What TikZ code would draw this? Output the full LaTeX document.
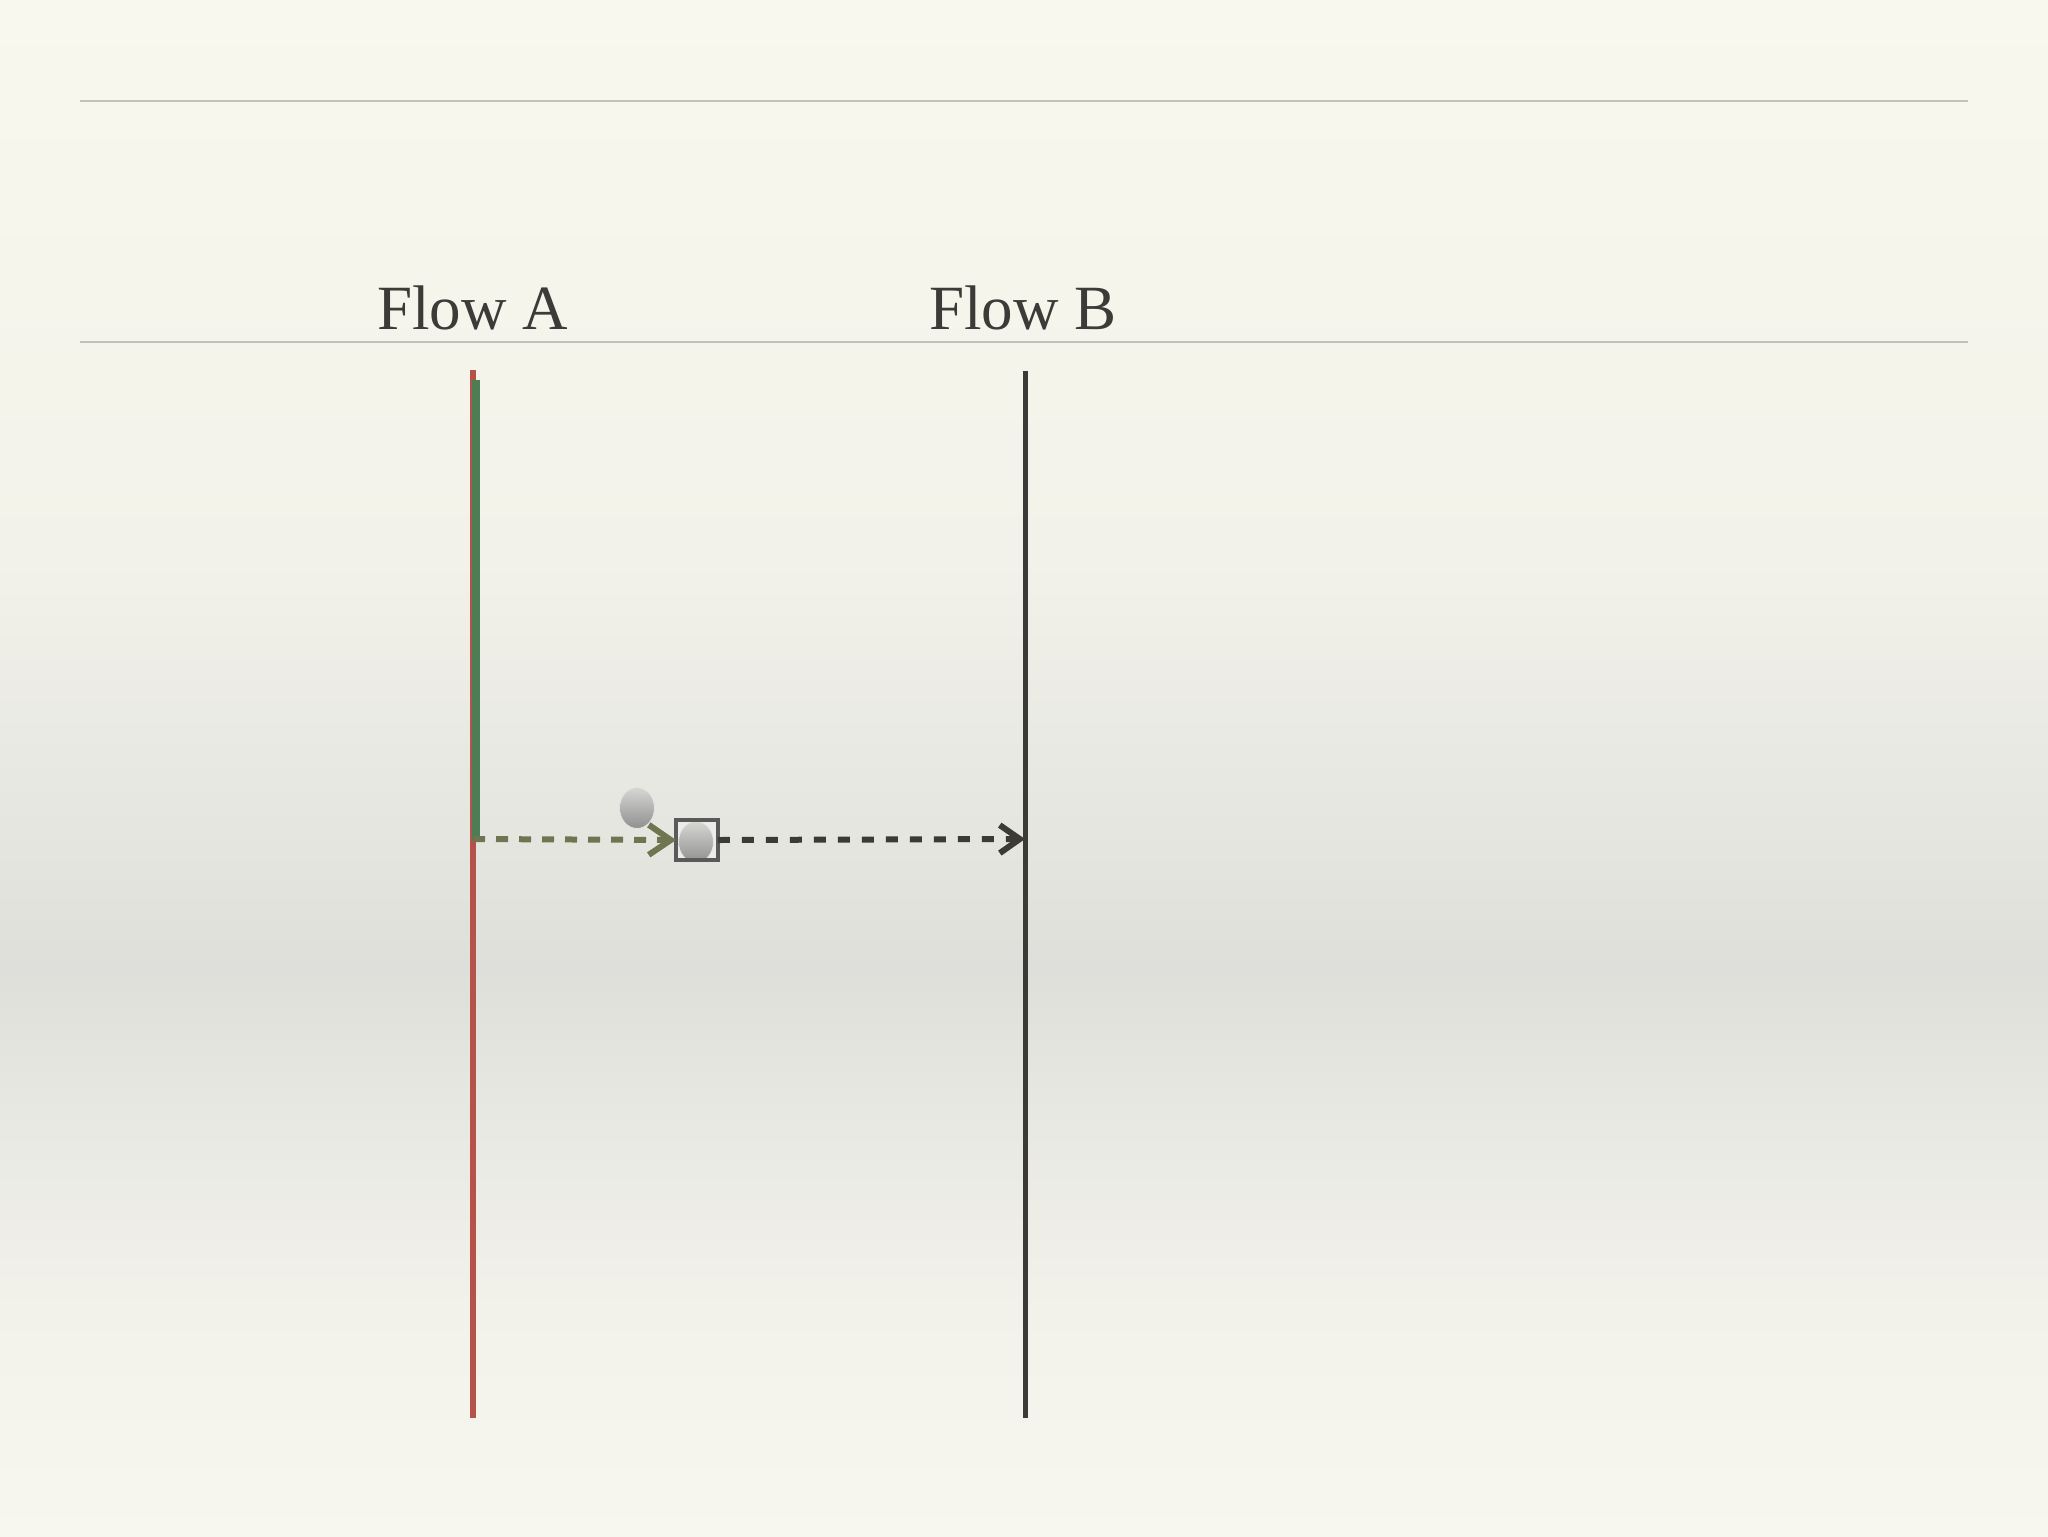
\documentclass[tikz,border=0pt]{standalone}
\usepackage{fontspec}
\setmainfont{Liberation Serif}
\usetikzlibrary{arrows.meta,shapes.geometric}
\definecolor{c0}{HTML}{F8F8EE}
\definecolor{c1}{HTML}{F2F2EA}
\definecolor{c2}{HTML}{EAEAE4}
\definecolor{c3}{HTML}{E5E5DF}
\definecolor{c4}{HTML}{DEDFDA}
\definecolor{c5}{HTML}{E8E8E2}
\definecolor{c6}{HTML}{F2F2EB}
\definecolor{c7}{HTML}{F7F7EF}
\definecolor{rule}{HTML}{C2C2BA}
\definecolor{ink}{HTML}{3D3B38}
\definecolor{laneRed}{HTML}{B5524A}
\definecolor{laneGreen}{HTML}{4C7D55}
\definecolor{olive}{HTML}{6E7550}
\definecolor{dark}{HTML}{3B3A36}
\definecolor{boxline}{HTML}{5A5A58}
\definecolor{tokTop}{HTML}{D6D6D3}
\definecolor{tokBot}{HTML}{909090}
\tikzset{
  sep/.style={draw=rule, line width=1pt},
  title/.style={font=\fontsize{31.5}{34}\selectfont, text=ink, anchor=base, inner sep=0pt},
  redlane/.style={draw=laneRed, line width=2.8pt},
  greenlane/.style={draw=laneGreen, line width=4pt},
  blacklane/.style={draw=dark, line width=2.5pt},
  greenmsg/.style={draw=olive, line width=3pt, dash pattern=on 6pt off 5.5pt,
     -{Straight Barb[length=11pt,width=15pt]}},
  blackmsg/.style={draw=dark, line width=3pt, dash pattern=on 6pt off 6pt,
     -{Straight Barb[length=10pt,width=14pt]}},
  token/.style={ellipse, minimum width=17.5pt, minimum height=20.5pt, inner sep=0pt,
     top color=tokTop, bottom color=tokBot, draw=white!80!gray, line width=0.4pt},
  boxstyle/.style={rectangle, minimum width=20.5pt, minimum height=20pt, inner sep=0pt,
     fill=white!85!gray},
}
\begin{document}
\begin{tikzpicture}[x=0.5pt,y=-0.5pt]
\useasboundingbox (0,0) rectangle (2048,1536);
% background
\shade[top color=c0,bottom color=c1] (0,-1) rectangle (2048,563);
\shade[top color=c1,bottom color=c2] (0,562) rectangle (2048,732);
\shade[top color=c2,bottom color=c3] (0,731) rectangle (2048,850);
\shade[top color=c3,bottom color=c4] (0,849) rectangle (2048,968);
\shade[top color=c4,bottom color=c5] (0,967) rectangle (2048,1111);
\shade[top color=c5,bottom color=c6] (0,1110) rectangle (2048,1307);
\shade[top color=c6,bottom color=c7] (0,1306) rectangle (2048,1537);
% rules
\coordinate (r1a) at (80,101);
\coordinate (r1b) at (1968,101);
\coordinate (r2a) at (80,342);
\coordinate (r2b) at (1968,342);
\draw[sep] (r1a) -- (r1b);
\draw[sep] (r2a) -- (r2b);
% titles
\node[title] (tA) at (472.8,329) {Flow A};
\node[title] (tB) at (1023,329) {Flow B};
% lanes
\coordinate (aTop) at (472.8,370);
\coordinate (aBot) at (472.8,1418);
\coordinate (gTop) at (476,380);
\coordinate (gBot) at (476,841);
\coordinate (bTop) at (1025,371);
\coordinate (bBot) at (1025,1418);
\coordinate (mStart) at (473,839);
\coordinate (bHit) at (1025,839);
\draw[redlane] (aTop) -- (aBot);
\draw[greenlane] (gTop) -- (gBot);
\draw[blacklane] (bTop) -- (bBot);
% box and tokens
\node[boxstyle] (box) at (697,840) {};
\node[token] (tok2) at (696,842) {};
\draw[draw=boxline, line width=2pt] (box.south west) rectangle (box.north east);
\node[token] (tok1) at (637,808) {};
% messages
\draw[greenmsg] (mStart) -- (box.west);
\draw[blackmsg] (box.east) -- (bHit);
\end{tikzpicture}
\end{document}
